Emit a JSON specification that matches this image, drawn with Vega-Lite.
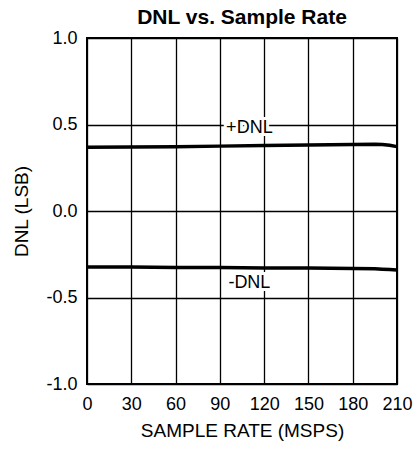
{
  "$schema": "https://vega.github.io/schema/vega-lite/v6.json",
  "width": 310,
  "height": 346,
  "autosize": {"type": "none"},
  "padding": {"left": 87, "top": 38, "right": 21, "bottom": 65},
  "background": "white",
  "title": {"text": "DNL vs. Sample Rate", "font": "Liberation Sans", "fontSize": 21, "fontWeight": "bold", "color": "black", "anchor": "middle", "offset": 1},
  "config": {
    "view": {"stroke": "black", "strokeWidth": 2},
    "axis": {"labelFont": "Liberation Sans", "titleFont": "Liberation Sans", "labelFontSize": 18, "titleFontSize": 19, "titleFontWeight": "normal", "labelColor": "black", "titleColor": "black", "domain": false, "ticks": false, "grid": true, "gridColor": "black", "gridOpacity": 1, "gridWidth": 1.3}
  },
  "datasets": {
    "lines": [
      {"rate": 0, "dnl": 0.368, "series": "+DNL"},
      {"rate": 30, "dnl": 0.370, "series": "+DNL"},
      {"rate": 60, "dnl": 0.372, "series": "+DNL"},
      {"rate": 90, "dnl": 0.375, "series": "+DNL"},
      {"rate": 120, "dnl": 0.378, "series": "+DNL"},
      {"rate": 150, "dnl": 0.381, "series": "+DNL"},
      {"rate": 180, "dnl": 0.384, "series": "+DNL"},
      {"rate": 195, "dnl": 0.386, "series": "+DNL"},
      {"rate": 200, "dnl": 0.385, "series": "+DNL"},
      {"rate": 205, "dnl": 0.380, "series": "+DNL"},
      {"rate": 210, "dnl": 0.372, "series": "+DNL"},
      {"rate": 0, "dnl": -0.323, "series": "-DNL"},
      {"rate": 30, "dnl": -0.324, "series": "-DNL"},
      {"rate": 60, "dnl": -0.326, "series": "-DNL"},
      {"rate": 90, "dnl": -0.327, "series": "-DNL"},
      {"rate": 120, "dnl": -0.329, "series": "-DNL"},
      {"rate": 150, "dnl": -0.330, "series": "-DNL"},
      {"rate": 180, "dnl": -0.332, "series": "-DNL"},
      {"rate": 195, "dnl": -0.334, "series": "-DNL"},
      {"rate": 200, "dnl": -0.336, "series": "-DNL"},
      {"rate": 205, "dnl": -0.338, "series": "-DNL"},
      {"rate": 210, "dnl": -0.341, "series": "-DNL"}
    ],
    "labels": [
      {"rate": 110, "dnl": 0.48, "label": "+DNL"},
      {"rate": 110, "dnl": -0.416, "label": "-DNL"}
    ]
  },
  "encoding": {
    "x": {"field": "rate", "type": "quantitative", "scale": {"domain": [0, 210], "nice": false}, "axis": {"title": "SAMPLE RATE (MSPS)", "values": [0, 30, 60, 90, 120, 150, 180, 210], "labelPadding": 11, "titlePadding": 8, "labelFlush": false}},
    "y": {"field": "dnl", "type": "quantitative", "scale": {"domain": [-1, 1], "nice": false}, "axis": {"title": "DNL (LSB)", "values": [-1, -0.5, 0, 0.5, 1], "labelExpr": "replace(format(datum.value, '.1f'), '\u2212', '-')", "labelPadding": 10, "titlePadding": 14, "labelFlush": false}}
  },
  "layer": [
    {
      "data": {"name": "lines"},
      "mark": {"type": "line", "color": "black", "strokeWidth": 3.5},
      "encoding": {"detail": {"field": "series"}}
    },
    {
      "data": {"name": "labels"},
      "mark": {"type": "text", "font": "Liberation Sans", "fontSize": 18, "stroke": "white", "strokeWidth": 6, "fill": "white", "baseline": "middle", "align": "center"},
      "encoding": {"text": {"field": "label"}}
    },
    {
      "data": {"name": "labels"},
      "mark": {"type": "text", "font": "Liberation Sans", "fontSize": 18, "color": "black", "baseline": "middle", "align": "center"},
      "encoding": {"text": {"field": "label"}}
    }
  ]
}
